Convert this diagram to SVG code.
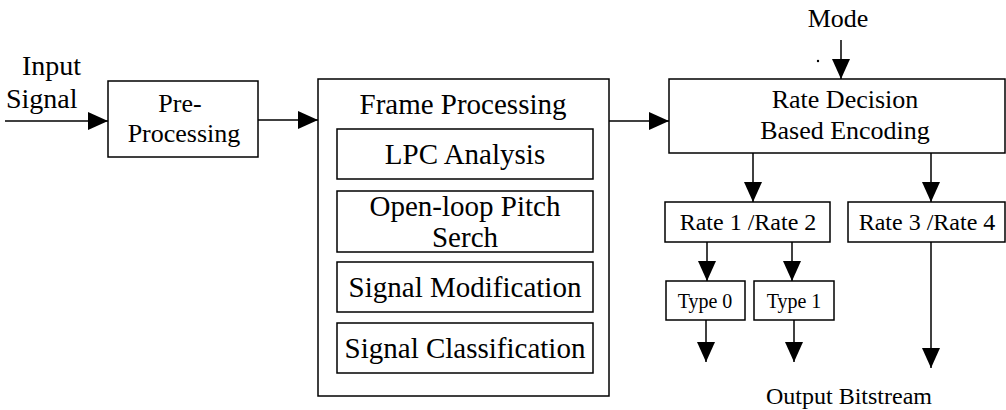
<svg xmlns="http://www.w3.org/2000/svg" width="1006" height="410" viewBox="0 0 1006 410">
<defs>
<style>
.box{fill:#fff;stroke:#000;stroke-width:1.5}
.ln{stroke:#000;stroke-width:1.5;fill:none;marker-end:url(#ah)}
text{font-family:"Liberation Serif","Times New Roman",serif;fill:#000}
.t28{font-size:28px}
.t29{font-size:29px}
.t26{font-size:26px}
.t24{font-size:24px}
.t20{font-size:20px}
.c{text-anchor:middle}
</style>
<marker id="ah" markerUnits="userSpaceOnUse" markerWidth="20" markerHeight="20" refX="20" refY="9" orient="auto">
<path d="M0,0 L20,9 L0,18 Z" fill="#000"/>
</marker>
</defs>
<g id="connectors">
<line class="ln" x1="5" y1="121" x2="108" y2="121"/>
<line class="ln" x1="258" y1="120" x2="318" y2="120"/>
<line class="ln" x1="609" y1="121" x2="669" y2="121"/>
<line class="ln" x1="841" y1="40" x2="841" y2="79"/>
<line class="ln" x1="753" y1="153" x2="753" y2="202"/>
<line class="ln" x1="931" y1="153" x2="931" y2="202"/>
<line class="ln" x1="707" y1="242" x2="707" y2="281"/>
<line class="ln" x1="792" y1="242" x2="792" y2="281"/>
<line class="ln" x1="706" y1="320" x2="706" y2="362"/>
<line class="ln" x1="794" y1="320" x2="794" y2="362"/>
<line class="ln" x1="931" y1="242" x2="931" y2="368"/>
<circle cx="818" cy="61" r="1.2" fill="#000"/>
</g>
<g id="input-label">
<text class="t28" x="22" y="75">Input</text>
<text class="t28" x="6" y="108">Signal</text>
</g>
<g id="mode-label">
<text class="t26 c" x="838" y="27">Mode</text>
</g>
<g id="pre-processing">
<rect class="box" x="108" y="81" width="150" height="76"/>
<text class="t26 c" x="180" y="112">Pre-</text>
<text class="t26 c" x="184" y="142">Processing</text>
</g>
<g id="frame-processing">
<rect class="box" x="318" y="79" width="291" height="317"/>
<text class="t29 c" x="463" y="114">Frame Processing</text>
</g>
<g id="lpc-analysis">
<rect class="box" x="337" y="129" width="256" height="50"/>
<text class="t29 c" x="465" y="164">LPC Analysis</text>
</g>
<g id="pitch-search">
<rect class="box" x="337" y="191" width="256" height="61"/>
<text class="t29 c" x="465" y="216">Open-loop Pitch</text>
<text class="t29 c" x="465" y="247">Serch</text>
</g>
<g id="signal-modification">
<rect class="box" x="337" y="262" width="256" height="50"/>
<text class="t29 c" x="465" y="297">Signal Modification</text>
</g>
<g id="signal-classification">
<rect class="box" x="337" y="323" width="256" height="50"/>
<text class="t29 c" x="465" y="358">Signal Classification</text>
</g>
<g id="rate-decision">
<rect class="box" x="669" y="79" width="336" height="74"/>
<text class="t26 c" x="845" y="108">Rate Decision</text>
<text class="t26 c" x="845" y="139">Based Encoding</text>
</g>
<g id="rate12">
<rect class="box" x="665" y="202" width="165" height="40"/>
<text class="t24 c" x="748" y="230">Rate 1 /Rate 2</text>
</g>
<g id="rate34">
<rect class="box" x="848" y="202" width="157" height="40"/>
<text class="t24 c" x="927" y="230">Rate 3 /Rate 4</text>
</g>
<g id="type0">
<rect class="box" x="666" y="281" width="79" height="39"/>
<text class="t20 c" x="705" y="308">Type 0</text>
</g>
<g id="type1">
<rect class="box" x="754" y="281" width="80" height="39"/>
<text class="t20 c" x="794" y="308">Type 1</text>
</g>
<g id="output-label">
<text class="t24 c" x="849" y="404">Output Bitstream</text>
</g>
</svg>
